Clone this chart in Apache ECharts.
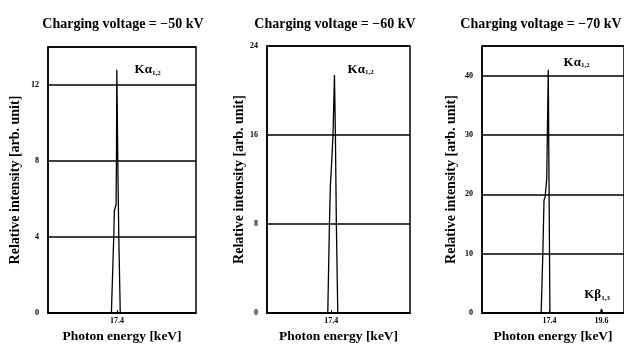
<!DOCTYPE html>
<html>
<head>
<meta charset="utf-8">
<script src="https://cdn.jsdelivr.net/npm/echarts@6/dist/echarts.min.js"></script>
<style>html,body{margin:0;padding:0;background:#fff}#c{width:624px;height:349px}</style>
</head>
<body>
<div id="c"></div>
<script>
// Titles
const panelTitles = ['Charging voltage = \u221250 kV', 'Charging voltage = \u221260 kV', 'Charging voltage = \u221270 kV'];
// X-axis ranges (keV) and labelled ticks
const xRanges = [[14.6, 20.6], [14.7, 20.7], [14.55, 20.55]];
const xTickLabels = [[17.4], [17.4], [17.4, 19.6]];
// Y-axis ranges and intervals
const yMax = [14, 24, 45];
const yInterval = [4, 8, 10];
const yShowMax = [false, true, false];
// Spectra: [energy keV, relative intensity]
const spectrum50 = [[14.6,0],[17.17,0],[17.265,4],[17.29,5.4],[17.36,5.7],[17.375,8],[17.39,12.8],[17.43,8],[17.47,4],[17.53,0],[20.6,0]];
const spectrum60 = [[14.7,0],[17.25,0],[17.32,8],[17.36,11.5],[17.40,13],[17.47,16],[17.53,21.4],[17.57,16],[17.61,8],[17.67,0],[20.7,0]];
const spectrum70 = [[14.55,0],[17.05,0],[17.12,10],[17.17,19],[17.215,19.5],[17.285,22.6],[17.31,22.6],[17.35,41],[17.385,20],[17.42,0],[19.55,0],[19.6,0.7],[19.65,0],[20.55,0]];
const spectra = [spectrum50, spectrum60, spectrum70];
// Peak labels: [x, y, text]
const peakLabels = [
  [[18.64, 12.8, 'Ka']],
  [[18.63, 21.9, 'Ka']],
  [[18.55, 42.2, 'Ka'], [19.41, 3.1, 'Kb']]
];

const serif = '"Liberation Serif", "DejaVu Serif", serif';
const grids = [
  {left: 48, top: 47, width: 148, height: 275},
  {left: 267, top: 46, width: 143, height: 276},
  {left: 482, top: 46, width: 147, height: 276}
];
const yNameGap = [26, 19, 24];
const titleCenters = [118, 330, 536];

const option = {
  animation: false,
  backgroundColor: '#fff',
  title: panelTitles.map((t, i) => ({
    text: t, left: titleCenters[i], top: 12, textAlign: 'center',
    textStyle: {fontFamily: serif, fontWeight: 'bold', fontSize: 14, color: '#000'}
  })),
  grid: grids.map(g => Object.assign({show: true, borderColor: '#000', borderWidth: 1.5, backgroundColor: 'transparent'}, g)),
  xAxis: grids.map((g, i) => ({
    gridIndex: i, type: 'value', min: xRanges[i][0], max: xRanges[i][1],
    name: 'Photon energy [keV]', nameLocation: 'middle', nameGap: 16,
    nameTextStyle: {fontFamily: serif, fontWeight: 'bold', fontSize: 13.5, color: '#000'},
    axisLine: {show: true, onZero: false, lineStyle: {color: '#000', width: 1.5}},
    axisTick: {show: true, inside: true, length: 3, customValues: xTickLabels[i], lineStyle: {color: '#000'}},
    axisLabel: {show: true, customValues: xTickLabels[i], margin: 4, fontFamily: serif, fontWeight: 'bold', fontSize: 8, color: '#000', formatter: v => v.toFixed(1)},
    splitLine: {show: false}
  })),
  yAxis: grids.map((g, i) => ({
    gridIndex: i, type: 'value', min: 0, max: yMax[i], interval: yInterval[i],
    name: 'Relative intensity [arb. unit]', nameLocation: 'middle', nameGap: yNameGap[i],
    nameTextStyle: {fontFamily: serif, fontWeight: 'bold', fontSize: 14, color: '#000'},
    axisLine: {show: true, lineStyle: {color: '#000', width: 1.5}},
    axisTick: {show: false},
    axisLabel: {margin: 9, fontFamily: serif, fontWeight: 'bold', fontSize: 8, color: '#000', showMaxLabel: yShowMax[i]},
    splitLine: {show: true, lineStyle: {color: '#000', width: 1.5}}
  })),
  series: spectra.map((d, i) => ({
    type: 'line', xAxisIndex: i, yAxisIndex: i, data: d, symbol: 'none',
    lineStyle: {color: '#000', width: 1.3},
    markPoint: {
      symbol: 'rect', symbolSize: [1, 1],
      itemStyle: {color: 'rgba(0,0,0,0)'},
      data: peakLabels[i].map(p => ({
        coord: [p[0], p[1]],
        label: {
          show: true, position: 'inside',
          formatter: p[2] === 'Ka' ? '{k|K\u03b1}{s|1,2}' : '{k|K\u03b2}{s|1,3}',
          rich: {
            k: {fontFamily: serif, fontWeight: 'bold', fontSize: 13, color: '#000'},
            s: {fontFamily: serif, fontWeight: 'bold', fontSize: 7, color: '#000', verticalAlign: 'bottom', padding: [6, 0, 0, 0]}
          }
        }
      }))
    }
  }))
};
const chart = echarts.init(document.getElementById('c'), null, {renderer: 'canvas'});
chart.setOption(option);
</script>
</body>
</html>
